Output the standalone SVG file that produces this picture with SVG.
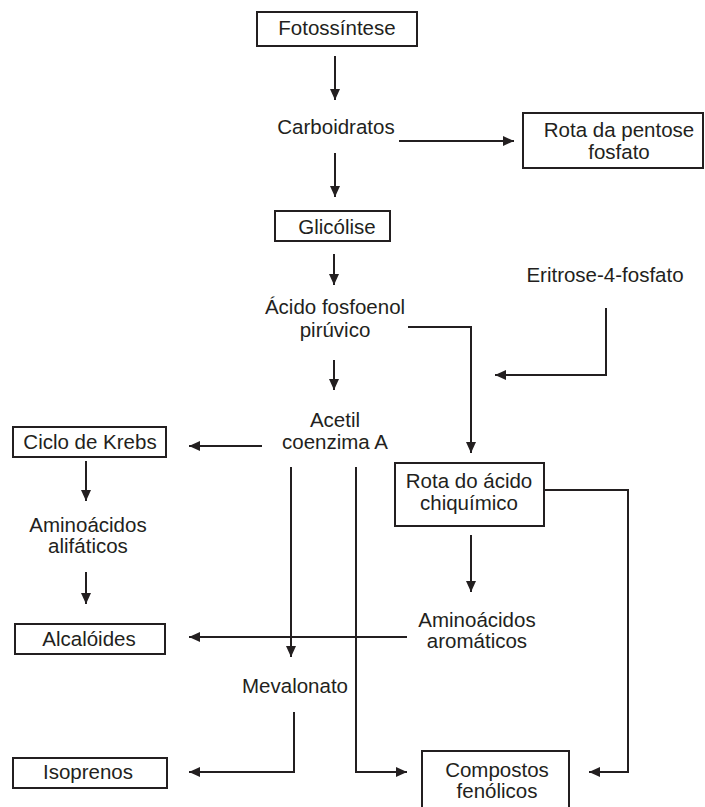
<svg xmlns="http://www.w3.org/2000/svg" width="705" height="807" viewBox="0 0 705 807">
<style>
  .box { fill: #ffffff; stroke: #231f20; stroke-width: 2; }
  .lbl { font-family: "Liberation Sans", Arial, sans-serif; font-size: 20.5px; fill: #231f20; text-anchor: middle; }
  .con { fill: none; stroke: #231f20; stroke-width: 2; marker-end: url(#ah); }
</style>
<defs>
  <marker id="ah" markerUnits="userSpaceOnUse" markerWidth="11" markerHeight="10" refX="11" refY="5" orient="auto">
    <path d="M0,0 L11,5 L0,10 Z" fill="#231f20"/>
  </marker>
</defs>
<rect width="705" height="807" fill="#ffffff"/>

<g id="connectors">
  <path class="con" d="M335,56 V100"/>
  <path class="con" d="M399,141 H514"/>
  <path class="con" d="M335,153 V197"/>
  <path class="con" d="M334,254 V285"/>
  <path class="con" d="M408,327 H471 V453"/>
  <path class="con" d="M606,308 V375 H495"/>
  <path class="con" d="M334,360 V390"/>
  <path class="con" d="M262,446 H189"/>
  <path class="con" d="M86,461 V501"/>
  <path class="con" d="M86,572 V604"/>
  <path class="con" d="M291,467 V657"/>
  <path class="con" d="M356,467 V772 H407"/>
  <path class="con" d="M471,535 V592"/>
  <path class="con" d="M544,490 H628 V772 H589"/>
  <path class="con" d="M407,637 H189"/>
  <path class="con" d="M294,712 V772 H189"/>
</g>

<g id="fotossintese">
  <rect class="box" x="257" y="12" width="160" height="34"/>
  <text class="lbl" x="337" y="35">Fotossíntese</text>
</g>
<g id="carboidratos">
  <text class="lbl" x="336" y="134">Carboidratos</text>
</g>
<g id="rota-pentose">
  <rect class="box" x="523" y="113" width="180" height="55"/>
  <text class="lbl" x="619" y="137">Rota da pentose</text>
  <text class="lbl" x="619" y="159">fosfato</text>
</g>
<g id="glicolise">
  <rect class="box" x="275" y="211" width="115" height="30"/>
  <text class="lbl" x="337" y="234">Glicólise</text>
</g>
<g id="eritrose">
  <text class="lbl" x="605" y="282">Eritrose-4-fosfato</text>
</g>
<g id="acido-fosfoenol">
  <text class="lbl" x="335" y="314">Ácido fosfoenol</text>
  <text class="lbl" x="335" y="337">pirúvico</text>
</g>
<g id="acetil">
  <text class="lbl" x="335" y="427">Acetil</text>
  <text class="lbl" x="335" y="449">coenzima A</text>
</g>
<g id="krebs">
  <rect class="box" x="13" y="427" width="153" height="30"/>
  <text class="lbl" x="90" y="449">Ciclo de Krebs</text>
</g>
<g id="rota-chiquimico">
  <rect class="box" x="395" y="463" width="149" height="63"/>
  <text class="lbl" x="469" y="488">Rota do ácido</text>
  <text class="lbl" x="469" y="510">chiquímico</text>
</g>
<g id="aminoacidos-alifaticos">
  <text class="lbl" x="88" y="532">Aminoácidos</text>
  <text class="lbl" x="88" y="553">alifáticos</text>
</g>
<g id="aminoacidos-aromaticos">
  <text class="lbl" x="477" y="627">Aminoácidos</text>
  <text class="lbl" x="477" y="648">aromáticos</text>
</g>
<g id="alcaloides">
  <rect class="box" x="15" y="624" width="150" height="30"/>
  <text class="lbl" x="89" y="646">Alcalóides</text>
</g>
<g id="mevalonato">
  <text class="lbl" x="295" y="693">Mevalonato</text>
</g>
<g id="isoprenos">
  <rect class="box" x="13" y="758" width="154" height="30"/>
  <text class="lbl" x="88" y="779">Isoprenos</text>
</g>
<g id="compostos-fenolicos">
  <rect class="box" x="422" y="751" width="147" height="70"/>
  <text class="lbl" x="497" y="777">Compostos</text>
  <text class="lbl" x="497" y="798">fenólicos</text>
</g>
</svg>
